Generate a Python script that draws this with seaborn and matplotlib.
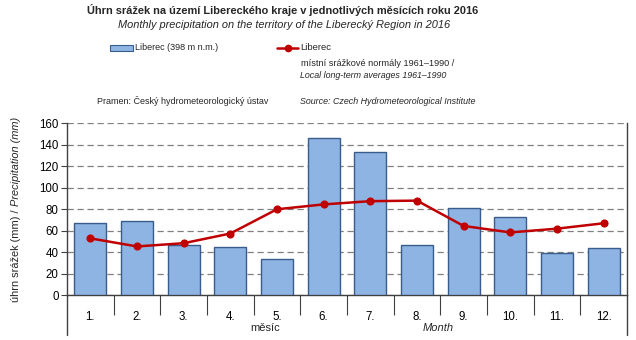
import matplotlib
matplotlib.use("Agg")
import matplotlib.pyplot as plt
import seaborn as sns
import pandas as pd
from matplotlib.lines import Line2D
from matplotlib.patches import Rectangle

months = ["1.", "2.", "3.", "4.", "5.", "6.", "7.", "8.", "9.", "10.", "11.", "12."]
precip_2016 = [67, 69, 47, 45, 33.5, 146, 133, 46.5, 81, 72.5, 39, 44.5]
normals = [53, 45.5, 48.5, 57.5, 80, 84.5, 87.5, 88, 64.5, 58.5, 62, 67]

sns.set_theme(style="white")
plt.rcParams['font.family'] = ['Liberation Sans', 'DejaVu Sans']

df = pd.DataFrame({"month": months, "precip": precip_2016, "normal": normals})

fig = plt.figure(figsize=(6.36, 3.40), dpi=100)
ax = fig.add_axes([0.1053, 0.1309, 0.8805, 0.5073])

sns.barplot(data=df, x="month", y="precip", ax=ax, color="#8EB4E3",
            saturation=1, width=0.68, edgecolor="#385D8A", linewidth=1.0, zorder=3)
sns.pointplot(data=df, x="month", y="normal", ax=ax, color="#C00000",
              markers="o", markersize=4.5, linewidth=1.8, zorder=4)

ax.set_xlim(-0.5, 11.5)
ax.set_ylim(0, 160)
ax.set_yticks(range(0, 161, 20))
ax.yaxis.grid(True, linestyle=(0, (5, 3)), color="#808080", linewidth=0.9, zorder=0)
ax.set_axisbelow(True)
ax.set_xlabel("")
ax.set_ylabel("")

ax.spines["top"].set_visible(False)
for s in ["left", "bottom", "right"]:
    ax.spines[s].set_color("#404040")
    ax.spines[s].set_linewidth(1.0)

ax.tick_params(axis="y", which="major", left=True, length=4, width=0.8,
               color="#404040", labelsize=8.3, pad=2, labelcolor="black")
ax.tick_params(axis="x", which="major", bottom=False, labelsize=8.3, pad=5, labelcolor="black")
ax.set_xticks([i + 0.5 for i in range(11)], minor=True)
ax.tick_params(axis="x", which="minor", bottom=True, length=14.5, width=0.8,
               color="#404040", direction="out")

ext = -40 / 172.5
for xv in (0, 1):
    ax.add_line(Line2D([xv, xv], [0, ext], transform=ax.transAxes,
                       color="#404040", linewidth=1.0, clip_on=False))

# axis labels
fig.text(265 / 636, 1 - 328 / 340, "měsíc", ha="center", va="center", fontsize=8)
fig.text(438 / 636, 1 - 328 / 340, "Month", ha="center", va="center", fontsize=8, style="italic")

yl_x = 16 / 636
yl_y = 1 - 206 / 340
fig.text(yl_x, yl_y, "úhrn srážek (mm) / ", rotation=90, rotation_mode="anchor",
         ha="right", va="center", fontsize=7.9)
fig.text(yl_x, yl_y, "Precipitation (mm)", rotation=90, rotation_mode="anchor",
         ha="left", va="center", fontsize=7.9, style="italic")

# titles
fig.text(283 / 636, 1 - 10 / 340, "Úhrn srážek na území Libereckého kraje v jednotlivých měsících roku 2016",
         ha="center", va="center", fontsize=7.9, fontweight="bold")
fig.text(284 / 636, 1 - 25 / 340, "Monthly precipitation on the territory of the Liberecký Region in 2016",
         ha="center", va="center", fontsize=7.9, style="italic")

# legend
fig.patches.append(Rectangle((110 / 636, 1 - 51 / 340), 23 / 636, 6 / 340,
                             transform=fig.transFigure, facecolor="#8EB4E3",
                             edgecolor="#385D8A", linewidth=0.8))
fig.text(135 / 636, 1 - 48 / 340, "Liberec (398 m n.m.)", ha="left", va="center", fontsize=6.5)
fig.lines.append(Line2D([277 / 636, 298 / 636], [1 - 48 / 340, 1 - 48 / 340],
                        transform=fig.transFigure, color="#C00000", linewidth=1.8))
fig.lines.append(Line2D([287.5 / 636], [1 - 48 / 340], transform=fig.transFigure,
                        color="#C00000", marker="o", markersize=4.5, linestyle="none"))
fig.text(300 / 636, 1 - 48 / 340, "Liberec", ha="left", va="center", fontsize=6.8)
fig.text(301 / 636, 1 - 63 / 340, "místní srážkové normály 1961–1990 /", ha="left", va="center", fontsize=6.6)
fig.text(300 / 636, 1 - 75 / 340, "Local long-term averages 1961–1990", ha="left", va="center",
         fontsize=6.4, style="italic")

fig.text(97 / 636, 1 - 101 / 340, "Pramen: Český hydrometeorologický ústav", ha="left", va="center", fontsize=6.5)
fig.text(300 / 636, 1 - 101 / 340, "Source: Czech Hydrometeorological Institute", ha="left", va="center",
         fontsize=6.4, style="italic")

fig.savefig("out.png", dpi=100)
